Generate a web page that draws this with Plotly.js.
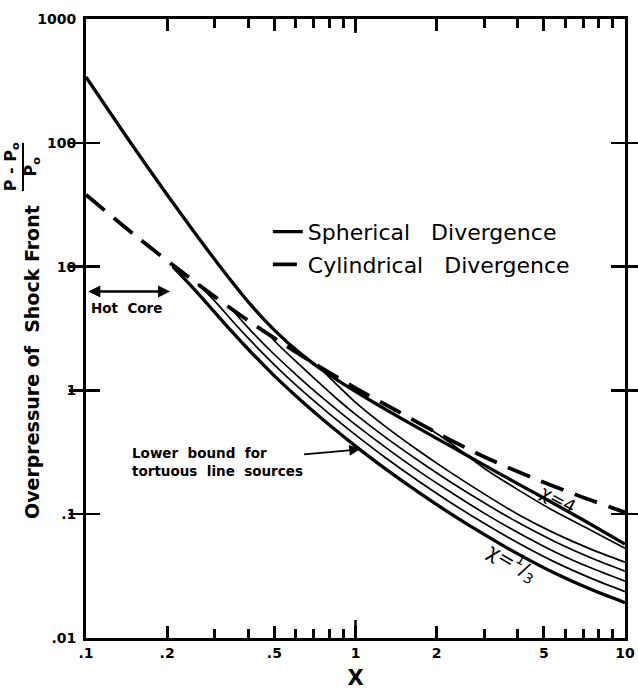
<!DOCTYPE html>
<html>
<head>
<meta charset="utf-8">
<script src="https://cdn.plot.ly/plotly-3.0.1.min.js"></script>
<style>html,body{margin:0;padding:0;background:#fff;}#chart{width:638px;height:690px;}</style>
</head>
<body>
<div id="chart"></div>
<script>
// Spherical divergence (solid)
const sphX = [0.1, 0.146, 0.2, 0.25, 0.32, 0.406, 0.5, 0.622, 0.75, 0.9, 1.2, 1.5, 2.0, 2.5, 3.5, 5, 7, 10];
const sphY = [340, 101, 38.1, 19.5, 9.53, 5.0, 3.07, 2.0, 1.47, 1.13, 0.773, 0.583, 0.41, 0.312, 0.207, 0.135, 0.0897, 0.0574];
// Cylindrical divergence (dashed)
const cylX = [0.1, 0.15, 0.21, 0.3, 0.4, 0.5, 0.7, 1.0, 1.4, 2.0, 3.0, 4.5, 6.5, 10];
const cylY = [38, 18.3, 10.3, 5.72, 3.66, 2.64, 1.66, 1.045, 0.698, 0.455, 0.291, 0.198, 0.145, 0.1035];
// Tortuous line sources: chi = 1/3 (lower bound) up to chi = 4
const l1X = [0.21, 0.25, 0.3, 0.35, 0.4, 0.5, 0.6, 0.7, 0.85, 1.0, 1.3, 1.7, 2.2, 3, 4, 5.5, 7.5, 10];
const l1Y = [10, 6.7, 4.29, 2.94, 2.15, 1.31, 0.906, 0.673, 0.472, 0.355, 0.23, 0.152, 0.1045, 0.0686, 0.0478, 0.0333, 0.0246, 0.0193];
const l2X = [0.26, 0.3, 0.35, 0.4, 0.5, 0.6, 0.7, 0.85, 1.0, 1.3, 1.7, 2.2, 3, 4, 5.5, 7.5, 10];
const l2Y = [7.24, 5.28, 3.62, 2.64, 1.61, 1.11, 0.828, 0.58, 0.437, 0.283, 0.187, 0.1285, 0.0844, 0.0588, 0.041, 0.0303, 0.0237];
const l3X = [0.345, 0.4, 0.5, 0.6, 0.7, 0.85, 1.0, 1.3, 1.7, 2.2, 3, 4, 5.5, 7.5, 10];
const l3Y = [4.61, 3.2, 1.95, 1.35, 1.0, 0.703, 0.529, 0.343, 0.226, 0.156, 0.102, 0.0712, 0.0496, 0.0367, 0.0288];
const l4X = [0.48, 0.5, 0.6, 0.7, 0.85, 1.0, 1.3, 1.7, 2.2, 3, 4, 5.5, 7.5, 10];
const l4Y = [2.8, 2.52, 1.72, 1.26, 0.86, 0.64, 0.414, 0.274, 0.188, 0.1235, 0.086, 0.06, 0.0443, 0.0347];
const l5X = [0.72, 0.85, 1.0, 1.3, 1.7, 2.2, 3, 4, 5.5, 7.5, 10];
const l5Y = [1.6, 1.12, 0.8, 0.505, 0.33, 0.225, 0.146, 0.1, 0.07, 0.052, 0.041];
const l6X = [1.9, 2.2, 3, 4, 5.5, 7.5, 10];
const l6Y = [0.484, 0.39, 0.235, 0.158, 0.105, 0.074, 0.053];

const xTickVals = [0.1, 0.2, 0.5, 1, 2, 5, 10];
const xTickText = ['.1', '.2', '.5', '1', '2', '5', '10'];
const xMinorVals = [0.3, 0.4, 0.6, 0.7, 0.8, 0.9, 3, 4, 6, 7, 8, 9];
const yTickVals = [0.01, 0.1, 1, 10, 100, 1000];
const yTickText = ['.01', '.1', '1', '10', '100', '1000'];

const BLK = '#000';
const thin = {color: BLK, width: 1.7, shape: 'spline', smoothing: 0.8};
const thick = {color: BLK, width: 3.3, shape: 'spline', smoothing: 0.8};

const traces = [
  {x: sphX, y: sphY, mode: 'lines', name: 'Spherical   Divergence', legendgroup: 'a', line: thick, showlegend: true},
  {x: cylX, y: cylY, mode: 'lines', name: 'Cylindrical   Divergence', legendgroup: 'b',
   line: {color: BLK, width: 3.8, dash: '24px,12px', shape: 'spline', smoothing: 0.8}, showlegend: true},
  {x: l1X, y: l1Y, mode: 'lines', line: thick, showlegend: false},
  {x: l2X, y: l2Y, mode: 'lines', line: thin, showlegend: false},
  {x: l3X, y: l3Y, mode: 'lines', line: thin, showlegend: false},
  {x: l4X, y: l4Y, mode: 'lines', line: thin, showlegend: false},
  {x: l5X, y: l5Y, mode: 'lines', line: thin, showlegend: false},
  {x: l6X, y: l6Y, mode: 'lines', line: thin, showlegend: false, xaxis: 'x2'}
];

const tickFont = {family: 'DejaVu Sans, sans-serif', size: 14, color: BLK, weight: 'bold'};
const boldF = (s, fam) => ({family: fam || 'DejaVu Sans, sans-serif', size: s, color: BLK, weight: 'bold'});

const layout = {
  width: 638, height: 690,
  margin: {l: 86, r: 13, t: 19, b: 52},
  paper_bgcolor: '#fff', plot_bgcolor: '#fff',
  showlegend: true,
  legend: {
    x: 0.3374, y: 0.69, xanchor: 'left', yanchor: 'top',
    bgcolor: 'rgba(0,0,0,0)', borderwidth: 0,
    font: {family: 'DejaVu Sans, sans-serif', size: 22, color: BLK},
    itemwidth: 30, tracegroupgap: 1
  },
  xaxis: {
    type: 'log', range: [-1, 1],
    tickmode: 'array', tickvals: xTickVals, ticktext: xTickText,
    ticks: 'inside', ticklen: 12, tickwidth: 3, tickcolor: BLK,
    minor: {tickmode: 'array', tickvals: xMinorVals, ticks: 'inside', ticklen: 9, tickwidth: 3, tickcolor: BLK, showgrid: false},
    showline: true, linewidth: 3, linecolor: BLK, mirror: true,
    showgrid: false, zeroline: false,
    tickfont: tickFont,
    title: {text: 'X', font: boldF(21), standoff: 14},
    automargin: false
  },
  xaxis2: {
    type: 'log', range: [-1, 1], overlaying: 'x', side: 'top', anchor: 'y',
    tickmode: 'array', tickvals: xTickVals, showticklabels: false,
    ticks: 'inside', ticklen: 12, tickwidth: 3, tickcolor: BLK,
    minor: {tickmode: 'array', tickvals: xMinorVals, ticks: 'inside', ticklen: 9, tickwidth: 3, tickcolor: BLK, showgrid: false},
    showline: false, showgrid: false, zeroline: false, automargin: false
  },
  yaxis: {
    type: 'log', range: [-2, 3],
    tickmode: 'array', tickvals: yTickVals, ticktext: yTickText,
    ticks: 'inside', ticklen: 14, tickwidth: 2.5, tickcolor: BLK,
    showline: true, linewidth: 3, linecolor: BLK, mirror: 'allticks',
    showgrid: false, zeroline: false,
    tickfont: tickFont, ticklabelstandoff: 4,
    automargin: false
  },
  shapes: [
    {type: 'line', xref: 'x', yref: 'paper', x0: 1, x1: 1, ysizemode: 'pixel', yanchor: 0, y0: 0, y1: 18, line: {color: BLK, width: 2.5}},
    {type: 'line', xref: 'x', yref: 'paper', x0: 1, x1: 1, ysizemode: 'pixel', yanchor: 1, y0: 0, y1: -14, line: {color: BLK, width: 2.5}},
    {type: 'line', xref: 'paper', yref: 'paper', x0: -0.1169, x1: -0.1169, y0: 0.722, y1: 0.800, line: {color: BLK, width: 2}}
  ],
  annotations: [
    {xref: 'paper', yref: 'paper', x: -0.100, y: 0.446, text: 'Overpressure of  Shock Front', textangle: -90,
     showarrow: false, font: boldF(19), xanchor: 'center', yanchor: 'middle'},
    {xref: 'paper', yref: 'paper', x: -0.119, y: 0.762, text: 'P - P<sub>o</sub><br>P<sub>o</sub>', textangle: -90,
     showarrow: false, font: boldF(16), xanchor: 'center', yanchor: 'middle'},
    // Hot core double arrow (log-axis coordinates are log10 values)
    {xref: 'x', yref: 'y', axref: 'x', ayref: 'y', x: -0.688, y: 0.799, ax: -0.997, ay: 0.799, text: '',
     showarrow: true, arrowhead: 2, startarrowhead: 2, arrowside: 'end+start', arrowwidth: 2.4, arrowsize: 1, startarrowsize: 1, arrowcolor: BLK},
    {xref: 'x', yref: 'y', x: -0.851, y: 0.665, text: 'Hot  Core', showarrow: false, font: boldF(13.5)},
    // Lower bound label
    {xref: 'x', yref: 'y', x: 0.017, y: -0.476, ax: -143, ay: 13,
     text: 'Lower  bound  for<br>tortuous  line  sources', align: 'left',
     showarrow: true, arrowhead: 2, arrowwidth: 1.8, arrowsize: 1.2, arrowcolor: BLK, font: boldF(13.5)},
    // chi labels
    {xref: 'x', yref: 'y', x: 0.755, y: -0.88, text: 'χ=4', textangle: 28, showarrow: false, font: {family: 'DejaVu Sans, sans-serif', size: 18, color: BLK}},
    {xref: 'x', yref: 'y', x: 0.584, y: -1.387, text: 'χ=<sup>1</sup>/<sub>3</sub>', textangle: 30, showarrow: false, font: {family: 'DejaVu Sans, sans-serif', size: 20, color: BLK}}
  ]
};

Plotly.newPlot('chart', traces, layout, {displayModeBar: false, staticPlot: true});
</script>
</body>
</html>
